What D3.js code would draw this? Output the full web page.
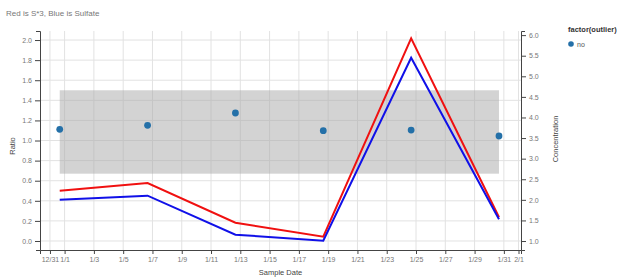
<!DOCTYPE html>
<html><head><meta charset="utf-8">
<script src="https://cdn.jsdelivr.net/npm/d3@7"></script>
<style>
body{margin:0;background:#fff;}
text{font-family:"Liberation Sans",Arial,sans-serif;}
</style></head>
<body><svg id="c" width="623" height="277"></svg>
<script>
const sampleDates = ["2015-12-31T16:00","2016-01-06T16:00","2016-01-12T16:00","2016-01-18T16:00","2016-01-24T16:00","2016-01-30T16:00"];
const redS3 = [0.500, 0.577, 0.182, 0.043, 2.017, 0.236];
const blueSulfate = [0.411, 0.451, 0.063, 0.003, 1.824, 0.216];
const ratioDots = [1.111, 1.151, 1.274, 1.098, 1.104, 1.045];
const outlier = ["no","no","no","no","no","no"];
const bandRange = [0.67, 1.50];
const xDomain = ["2015-12-30T07:40","2016-02-01T04:05"];
const xTickDates = ["2015-12-31","2016-01-01","2016-01-03","2016-01-05","2016-01-07","2016-01-09","2016-01-11","2016-01-13","2016-01-15","2016-01-17","2016-01-19","2016-01-21","2016-01-23","2016-01-25","2016-01-27","2016-01-29","2016-01-31","2016-02-01"];
const leftTicks = [0.0,0.2,0.4,0.6,0.8,1.0,1.2,1.4,1.6,1.8,2.0];
const rightTicks = [1.0,1.5,2.0,2.5,3.0,3.5,4.0,4.5,5.0,5.5,6.0];
const leftDomain = [-0.0896, 2.09];
const rightDomain = [0.782, 6.10];

const pt = d3.timeParse("%Y-%m-%dT%H:%M");
const pd = d3.timeParse("%Y-%m-%d");
const svg = d3.select("#c");
const L = 40, R = 521, T = 31, B = 250;

const x = d3.scaleTime().domain(xDomain.map(pt)).range([L, R]);
const y = d3.scaleLinear().domain(leftDomain).range([B, T]);
const y2 = d3.scaleLinear().domain(rightDomain).range([B, T]);

const data = sampleDates.map((d,i)=>({date:pt(d), red:redS3[i], blue:blueSulfate[i], ratio:ratioDots[i], outlier:outlier[i]}));
const tickDates = xTickDates.map(pd);

svg.append("text").attr("x",6).attr("y",16).attr("font-size",8).attr("fill","#777").text("Red is S*3, Blue is Sulfate");

const g = svg.append("g");
g.selectAll(".vg").data(tickDates).join("line")
 .attr("x1",d=>x(d)).attr("x2",d=>x(d)).attr("y1",T).attr("y2",B)
 .attr("stroke","#e2e2e2").attr("stroke-width",1);
g.selectAll(".hg").data(leftTicks).join("line")
 .attr("x1",L).attr("x2",R).attr("y1",d=>y(d)).attr("y2",d=>y(d))
 .attr("stroke","#e2e2e2").attr("stroke-width",1);

svg.append("rect")
 .attr("x",x(data[0].date)).attr("width",x(data[data.length-1].date)-x(data[0].date))
 .attr("y",y(bandRange[1])).attr("height",y(bandRange[0])-y(bandRange[1]))
 .attr("fill","#a8a8a8").attr("opacity",0.5);

const lineR = d3.line().x(d=>x(d.date)).y(d=>y(d.red));
const lineB = d3.line().x(d=>x(d.date)).y(d=>y(d.blue));
svg.append("path").datum(data).attr("d",lineR).attr("fill","none").attr("stroke","#f01010").attr("stroke-width",2);
svg.append("path").datum(data).attr("d",lineB).attr("fill","none").attr("stroke","#1010e8").attr("stroke-width",2);

svg.selectAll(".dot").data(data).join("circle")
 .attr("cx",d=>x(d.date)).attr("cy",d=>y(d.ratio)).attr("r",3.4).attr("fill","#2470a8");

function styleAxis(sel){
  sel.selectAll("path").attr("stroke","#444");
  sel.selectAll("line").attr("stroke","#444");
  sel.selectAll("text").attr("fill","#777").attr("font-size",7).attr("font-family","Liberation Sans, Arial, sans-serif");
}
const ax = svg.append("g").attr("transform",`translate(0,${B})`)
 .call(d3.axisBottom(x).tickValues(tickDates).tickFormat(d3.timeFormat("%-m/%-d")).tickSize(4).tickSizeOuter(4).tickPadding(3));
styleAxis(ax);
const ay = svg.append("g").attr("transform",`translate(${L},0)`)
 .call(d3.axisLeft(y).tickValues(leftTicks).tickFormat(d3.format(".1f")).tickSize(5).tickSizeOuter(4).tickPadding(3));
styleAxis(ay);
const ay2 = svg.append("g").attr("transform",`translate(${R},0)`)
 .call(d3.axisRight(y2).tickValues(rightTicks).tickFormat(d3.format(".1f")).tickSize(5).tickSizeOuter(4).tickPadding(3));
styleAxis(ay2);

svg.append("text").attr("x",(L+R)/2).attr("y",275).attr("text-anchor","middle").attr("font-size",7.5).attr("fill","#444").text("Sample Date");
svg.append("text").attr("transform","translate(15,146) rotate(-90)").attr("text-anchor","middle").attr("font-size",7.5).attr("fill","#444").text("Ratio");
svg.append("text").attr("transform","translate(558,139) rotate(-90)").attr("text-anchor","middle").attr("font-size",7.5).attr("fill","#444").text("Concentration");

const lg = svg.append("g");
lg.append("text").attr("x",568).attr("y",32).attr("font-size",7.5).attr("font-weight","bold").attr("fill","#333").text("factor(outlier)");
const cats = Array.from(new Set(outlier));
lg.selectAll(".li").data(cats).join("circle").attr("cx",571).attr("cy",(d,i)=>44+i*10).attr("r",2.8).attr("fill","#2470a8");
lg.selectAll(".lt").data(cats).join("text").attr("x",577).attr("y",(d,i)=>46.5+i*10).attr("font-size",7).attr("fill","#555").text(d=>d);
</script></body></html>
